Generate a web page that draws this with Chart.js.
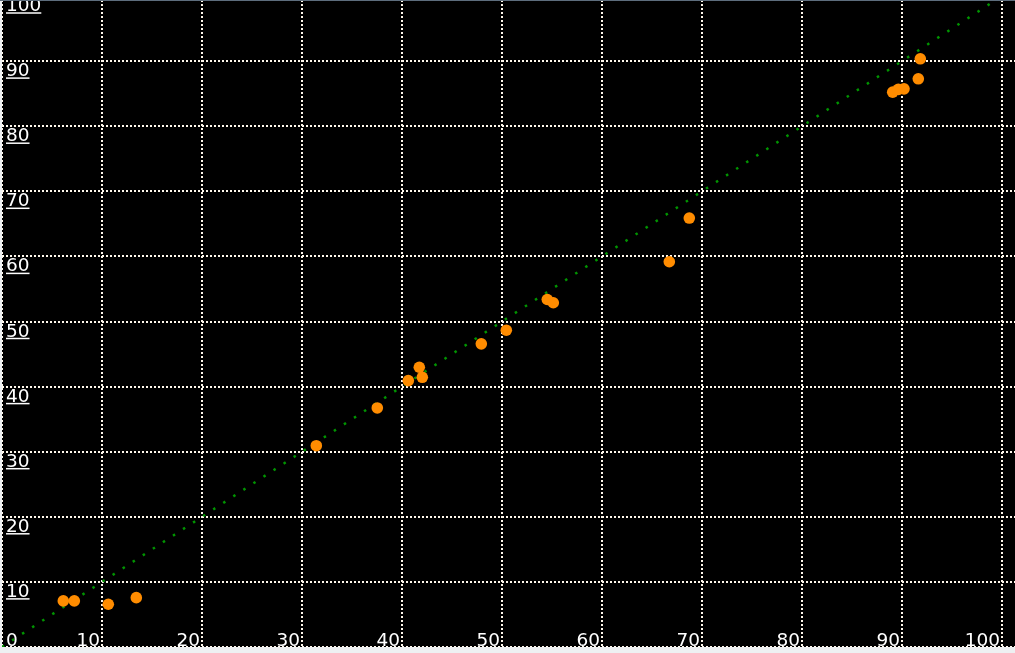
<!DOCTYPE html>
<html>
<head>
<meta charset="utf-8">
<script src="https://cdn.jsdelivr.net/npm/chart.js@4/dist/chart.umd.min.js"></script>
<style>
html,body{margin:0;padding:0;width:1015px;height:653px;overflow:hidden;background:#eef0f2;}
#topline{position:absolute;left:0;top:0;width:1015px;height:1px;background:#5d6d7d;z-index:2;}
#wrap{position:absolute;left:2px;top:-4px;width:1013px;height:651px;}
</style>
</head>
<body>
<div id="topline"></div>
<div id="wrap"><canvas id="c"></canvas></div>
<script>
const xValues = [6.13, 7.23, 10.63, 13.43, 31.43, 37.53, 40.63, 41.73, 42.03, 47.93, 50.43, 54.53, 55.13, 66.73, 68.73, 89.07, 89.63, 90.20, 91.63, 91.83];
const yValues = [7.08, 7.08, 6.57, 7.58, 30.92, 36.72, 40.92, 42.97, 41.43, 46.57, 48.66, 53.38, 52.88, 59.18, 65.89, 85.23, 85.65, 85.74, 87.28, 90.35];
const refLineX = [0, 100];
const refLineY = [0, 100];
const xTicks = [0, 10, 20, 30, 40, 50, 60, 70, 80, 90, 100];
const yTicks = [0, 10, 20, 30, 40, 50, 60, 70, 80, 90, 100];
const xTickLabels = ['0', '10', '20', '30', '40', '50', '60', '70', '80', '90', '100'];
const yTickLabels = ['0', '10', '20', '30', '40', '50', '60', '70', '80', '90', '100'];

const FONT = '18.5px "DejaVu Sans", Verdana, sans-serif';

const bgPlugin = {
  id: 'bg',
  beforeDraw(chart) {
    const ctx = chart.ctx;
    ctx.save();
    ctx.fillStyle = '#000000';
    ctx.fillRect(0, 0, chart.width, chart.height);
    ctx.restore();
  }
};

const labelPlugin = {
  id: 'insideLabels',
  afterDraw(chart) {
    const ctx = chart.ctx;
    const xs = chart.scales.x, ys = chart.scales.y;
    const left = chart.chartArea.left;
    ctx.save();
    ctx.font = FONT;
    ctx.fillStyle = '#ffffff';
    ctx.strokeStyle = '#ffffff';
    ctx.textBaseline = 'alphabetic';
    const y0 = ys.getPixelForValue(0);
    xTicks.forEach((v, i) => {
      const px = xs.getPixelForValue(v);
      const t = xTickLabels[i];
      if (i === 0) {
        ctx.textAlign = 'left';
        ctx.fillText(t, left + 4, y0 - 1);
      } else {
        ctx.textAlign = 'right';
        ctx.fillText(t, px - 2, y0 - 1);
      }
    });
    ctx.textAlign = 'left';
    ctx.lineWidth = 1.5;
    yTicks.forEach((v, i) => {
      if (i === 0) return;
      const py = ys.getPixelForValue(v);
      const t = yTickLabels[i];
      const tx = left + 4;
      ctx.fillText(t, tx, py + 15);
      const w = ctx.measureText(t).width;
      ctx.beginPath();
      ctx.moveTo(tx, py + 17);
      ctx.lineTo(tx + w, py + 17);
      ctx.stroke();
    });
    ctx.restore();
  }
};

const gridOpts = {
  color: '#fff8ec',
  lineWidth: 2,
  drawTicks: false,
  tickLength: 0
};

new Chart(document.getElementById('c'), {
  type: 'scatter',
  data: {
    datasets: [
      {
        label: 'points',
        data: xValues.map((x, i) => ({x: x, y: yValues[i]})),
        backgroundColor: '#ff8c00',
        borderWidth: 0,
        pointRadius: 5.8,
        pointHoverRadius: 5.8,
        order: 0
      },
      {
        type: 'line',
        label: 'ref',
        data: refLineX.map((x, i) => ({x: x, y: refLineY[i]})),
        borderColor: '#009400',
        borderWidth: 2.5,
        borderDash: [2.5, 9.5],
        pointRadius: 0,
        fill: false,
        order: 1
      }
    ]
  },
  options: {
    responsive: true,
    maintainAspectRatio: false,
    animation: false,
    events: [],
    layout: {padding: 0, autoPadding: false},
    plugins: {legend: {display: false}, tooltip: {enabled: false}},
    scales: {
      x: {
        type: 'linear',
        min: 0,
        max: 101.3,
        afterBuildTicks: s => { s.ticks = xTicks.map(v => ({value: v})); },
        ticks: {display: false, padding: 0},
        grid: gridOpts,
        border: {display: false, dash: [2, 2]}
      },
      y: {
        type: 'linear',
        min: 0,
        max: 100,
        afterBuildTicks: s => { s.ticks = yTicks.map(v => ({value: v})); },
        ticks: {display: false, padding: 0},
        grid: gridOpts,
        border: {display: false, dash: [2, 2]}
      }
    }
  },
  plugins: [bgPlugin, labelPlugin]
});
</script>
</body>
</html>
